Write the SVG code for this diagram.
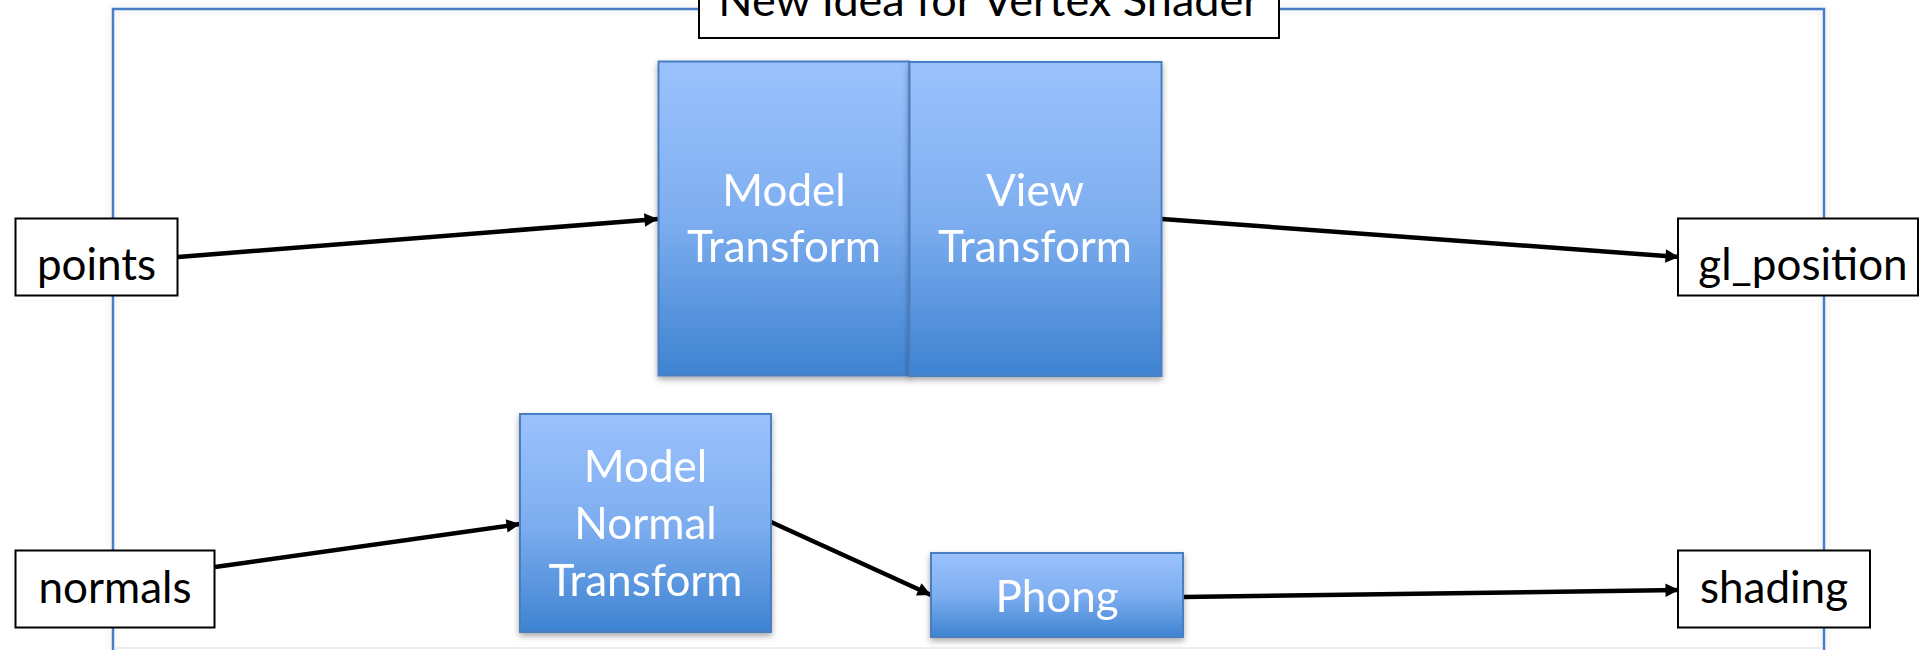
<svg xmlns="http://www.w3.org/2000/svg" width="1920" height="650" viewBox="0 0 1920 650">
  <defs>
    <linearGradient id="blueFill" x1="0" y1="0" x2="0" y2="1">
      <stop offset="0" stop-color="#9BC2FD"/>
      <stop offset="0.5" stop-color="#7EAEF0"/>
      <stop offset="1" stop-color="#3E83D1"/>
    </linearGradient>
    <filter id="softShadow" x="-10%" y="-10%" width="120%" height="130%">
      <feGaussianBlur in="SourceAlpha" stdDeviation="3"/>
      <feOffset dx="0" dy="3" result="blur"/>
      <feComponentTransfer><feFuncA type="linear" slope="0.35"/></feComponentTransfer>
      <feMerge><feMergeNode/><feMergeNode in="SourceGraphic"/></feMerge>
    </filter>
    <filter id="frameShadow" x="-5%" y="-5%" width="110%" height="110%">
      <feGaussianBlur in="SourceAlpha" stdDeviation="4"/>
      <feComponentTransfer><feFuncA type="linear" slope="0.15"/></feComponentTransfer>
      <feMerge><feMergeNode/><feMergeNode in="SourceGraphic"/></feMerge>
    </filter>
    <marker id="arrow" viewBox="0 0 10 10" refX="10" refY="5" markerWidth="3.6" markerHeight="3" orient="auto" markerUnits="strokeWidth">
      <path d="M0,0 L10,5 L0,10 z" fill="#000"/>
    </marker>
    <style>
      .frame { fill: none; stroke: #4A7EC6; stroke-width: 2.5; }
      .io rect { fill: #fff; stroke: #000; stroke-width: 2; }
      .io text { font-family: "Lato", "Open Sans", sans-serif; font-size: 44px; fill: #000; text-anchor: middle; }
      .stage rect { fill: url(#blueFill); stroke: #4A7EC0; stroke-width: 2; }
      .stage text { font-family: "Lato", "Open Sans", sans-serif; font-size: 44px; fill: #fff; text-anchor: middle; }
      .title rect { fill: #fff; stroke: #000; stroke-width: 2; }
      .title text { font-family: "Lato", "Open Sans", sans-serif; font-size: 45px; fill: #000; text-anchor: middle; }
      .edges line { stroke: #000; stroke-width: 4.5; marker-end: url(#arrow); }
    </style>
  </defs>

  <rect width="1920" height="650" fill="#fff"/>

  <!-- vertex shader frame -->
  <g id="shader-frame">
    <rect class="frame" x="113" y="9" width="1711" height="660" filter="url(#frameShadow)"/>
    <line x1="114" y1="648" x2="1823" y2="648" stroke="#E4E8EE" stroke-width="1.5"/>
  </g>

  <!-- title -->
  <g id="title" class="title">
    <rect x="699" y="-40" width="580" height="78"/>
    <text x="989" y="16">New Idea for Vertex Shader</text>
  </g>

  <!-- connectors -->
  <g id="connectors" class="edges">
    <line x1="178" y1="257" x2="658" y2="219"/>
    <line x1="1162" y1="219" x2="1679" y2="257"/>
    <line x1="215" y1="567" x2="520" y2="524"/>
    <line x1="771" y1="522" x2="931" y2="595"/>
    <line x1="1183" y1="597" x2="1679" y2="590"/>
  </g>

  <!-- inputs -->
  <g id="points" class="io">
    <rect x="15.5" y="218.5" width="162" height="77"/>
    <text x="96.5" y="280">points</text>
  </g>
  <g id="normals" class="io">
    <rect x="15.5" y="550.5" width="199" height="77"/>
    <text x="115" y="603">normals</text>
  </g>

  <!-- outputs -->
  <g id="gl_position" class="io">
    <rect x="1678" y="218.5" width="240" height="77"/>
    <text x="1803" y="280">gl_position</text>
  </g>
  <g id="shading" class="io">
    <rect x="1678" y="550.5" width="192" height="77"/>
    <text x="1774" y="603">shading</text>
  </g>

  <!-- transform stages -->
  <g id="model-transform" class="stage" filter="url(#softShadow)">
    <rect x="658.5" y="61.5" width="251" height="314"/>
    <text x="784" y="206">Model</text>
    <text x="784" y="262">Transform</text>
  </g>
  <g id="view-transform" class="stage" filter="url(#softShadow)">
    <rect x="909.5" y="62" width="252" height="314"/>
    <text x="1035" y="206">View</text>
    <text x="1035" y="262">Transform</text>
  </g>
  <g id="model-normal-transform" class="stage" filter="url(#softShadow)">
    <rect x="520" y="414" width="251" height="218"/>
    <text x="645.5" y="482">Model</text>
    <text x="645.5" y="539">Normal</text>
    <text x="645.5" y="596">Transform</text>
  </g>
  <g id="phong" class="stage" filter="url(#softShadow)">
    <rect x="931" y="553" width="252" height="84"/>
    <text x="1057" y="612">Phong</text>
  </g>
</svg>
